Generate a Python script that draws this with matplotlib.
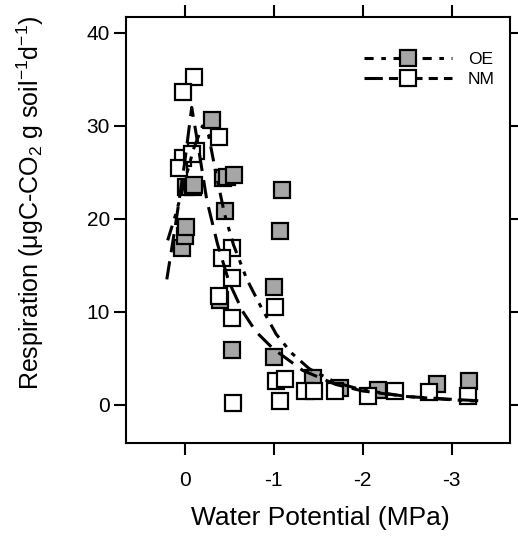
import matplotlib
matplotlib.use("Agg")
import matplotlib.pyplot as plt

plt.rcParams['font.family'] = ['Liberation Sans', 'DejaVu Sans']
plt.rcParams['mathtext.fontset'] = 'custom'
plt.rcParams['mathtext.rm'] = 'Liberation Sans'
plt.rcParams['mathtext.it'] = 'Liberation Sans:italic'

# water potential (MPa) and respiration
oe_psi = [0.03, 0.0, -0.02, -0.02, -0.09, -0.11, -0.31, -0.43, -0.48, -0.56,
          -0.45, -0.40, -0.53, -1.00, -1.01, -1.07, -1.09, -1.44, -1.75,
          -2.17, -2.84, -3.20]
oe_resp = [16.9, 18.2, 19.1, 23.4, 23.4, 23.6, 30.6, 24.4, 24.5, 24.7,
           20.9, 11.3, 5.9, 12.7, 5.1, 18.7, 23.1, 2.9, 1.8,
           1.6, 2.2, 2.6]

nm_psi = [-0.11, 0.02, -0.39, 0.02, 0.06, -0.13, -0.08, -0.53, -0.42, -0.53,
          -0.39, -0.53, -0.54, -1.02, -1.03, -1.13, -1.07, -1.35, -1.46,
          -1.69, -2.06, -2.36, -2.75, -3.18]
nm_resp = [35.3, 33.7, 28.8, 26.6, 25.5, 27.3, 27.0, 16.9, 15.8, 13.7,
           11.7, 9.4, 0.2, 10.5, 2.6, 2.8, 0.4, 1.5, 1.5,
           1.5, 1.0, 1.5, 1.4, 1.0]

# fitted curves
oe_fit_psi = [0.19, 0.1, 0.0, -0.1, -0.2, -0.27, -0.35, -0.45, -0.55, -0.7,
              -0.85, -1.03, -1.2, -1.4, -1.7, -2.0, -2.5, -3.0, -3.3]
oe_fit_resp = [17.7, 20.5, 24.0, 27.5, 30.0, 29.0, 25.0, 20.5, 17.2, 13.5,
               10.7, 7.6, 5.6, 3.9, 2.4, 1.6, 0.9, 0.55, 0.4]

nm_fit_psi = [0.2, 0.1, 0.0, -0.08, -0.15, -0.25, -0.37, -0.5, -0.65, -0.8,
              -1.0, -1.33, -1.7, -2.0, -2.5, -3.0, -3.3]
nm_fit_resp = [13.5, 19.5, 26.0, 32.0, 28.0, 22.0, 17.3, 13.2, 10.1, 7.9,
               6.0, 3.7, 2.2, 1.5, 0.9, 0.6, 0.45]

fig = plt.figure(figsize=(5.18, 5.37), dpi=100)
ax = fig.add_axes([0.243, 0.175, 0.742, 0.793])

ms = 11.5
ax.plot(oe_psi, oe_resp, 's', ms=ms, mfc='#a6a6a6', mec='black', mew=1.6,
        ls='none', zorder=3)
ax.plot(nm_psi, nm_resp, 's', ms=ms, mfc='white', mec='black', mew=1.6,
        ls='none', zorder=3)
ax.plot(oe_fit_psi, oe_fit_resp, color='black', lw=2.2,
        dashes=(5, 2.5, 1.5, 2.5, 1.5, 2.5), zorder=4)
ax.plot(nm_fit_psi, nm_fit_resp, color='black', lw=2.2, dashes=(6, 3),
        zorder=4)

# legend handles
h_oe, = ax.plot([], [], color='black', lw=2.2, dashes=(3, 2.5, 1.5, 2.5),
                marker='s', ms=ms, mfc='#a6a6a6', mec='black', mew=1.6)
h_nm, = ax.plot([], [], color='black', lw=2.2, dashes=(6, 2, 3, 2),
                marker='s', ms=ms, mfc='white', mec='black', mew=1.6)
ax.legend([h_oe, h_nm], ['OE', 'NM'], loc='upper right', frameon=False,
          fontsize=12.5, handlelength=5.1, labelspacing=0.3,
          bbox_to_anchor=(1.0, 0.955), handletextpad=0.9)

ax.set_xlim(0.66, -3.66)
ax.set_ylim(-4.1, 41.7)
ax.set_xticks([0, -1, -2, -3])
ax.set_xticklabels(['0', '-1', '-2', '-3'])
ax.set_yticks([0, 10, 20, 30, 40])

ax.tick_params(axis='both', which='both', direction='out', length=8.5,
               width=1.5, labelsize=15, top=True, right=True)
ax.tick_params(axis='x', pad=12)
ax.tick_params(axis='y', pad=3)
for s in ax.spines.values():
    s.set_linewidth(1.5)

fig.text(320 / 518, 1 - 518 / 537, 'Water Potential (MPa)', fontsize=19,
         ha='center', va='center')
fig.text(30 / 518, 1 - 203 / 537,
         'Respiration (μgC-CO$_2$ g soil$^{-1}$d$^{-1}$)', fontsize=18,
         rotation=90, ha='center', va='center')

fig.savefig('out.png', dpi=100)
